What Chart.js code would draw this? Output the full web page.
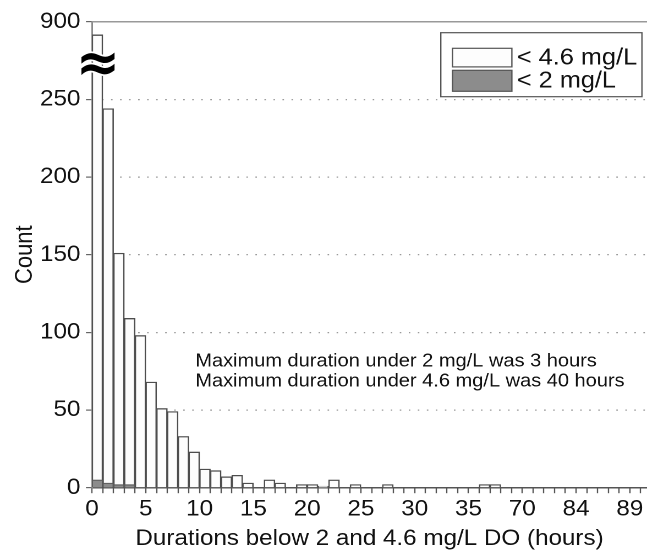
<!DOCTYPE html>
<html>
<head>
<meta charset="utf-8">
<script src="https://cdn.jsdelivr.net/npm/chart.js@4/dist/chart.umd.min.js"></script>
<style>
  html, body { margin: 0; padding: 0; background: #fff; overflow: hidden; }
  #wrap { width: 647px; height: 552px; overflow: hidden; }
</style>
</head>
<body>
<div id="wrap"><canvas id="c" width="588" height="552" style="display:block;width:647px;height:552px"></canvas></div>
<script>
// Hourly bins: number of events whose duration below each DO threshold fell in that bin
const countBelow46 = [790, 244, 151, 109, 98, 68, 51, 49, 33, 23, 12, 11, 7, 8, 3, 0,
                      5, 3, 0, 2, 2, 1, 5, 0, 2, 0, 0, 2, 0, 0, 0, 0, 0, 0, 0, 0,
                      2, 2, 0, 0, 0, 0, 0, 0, 0, 0, 0, 0, 0, 0, 0, 0];
const countBelow2  = [5, 3, 2, 2, 0, 0, 0, 0, 0, 0, 0, 0, 0, 0, 0, 0,
                      0, 0, 0, 0, 0, 0, 0, 0, 0, 0, 0, 0, 0, 0, 0, 0,
                      0, 0, 0, 0, 0, 0, 0, 0, 0, 0, 0, 0, 0, 0, 0, 0, 0, 0, 0, 0];
const seriesLabels = ['< 4.6 mg/L', '< 2 mg/L'];

// x axis: one slot per bin, labelled every fifth edge
const xTickPositions = [0, 5, 10, 15, 20, 25, 30, 35, 40, 45, 50];
const xTickLabels    = ['0', '5', '10', '15', '20', '25', '30', '35', '70', '84', '89'];
const xAxisEnd = 51.6;

// y axis: 0–250 linear, then a single 50-unit step stands for 250–900
const yTickLabels = ['0', '50', '100', '150', '200', '250', '900'];
const BREAK_LOW = 250, BREAK_HIGH = 900, BREAK_SPAN = 50;

const noteLines = [
  'Maximum duration under 2 mg/L was 3 hours',
  'Maximum duration under 4.6 mg/L was 40 hours'
];

function toAxis(v) {
  return v <= BREAK_LOW ? v : BREAK_LOW + (v - BREAK_LOW) * BREAK_SPAN / (BREAK_HIGH - BREAK_LOW);
}
function toPoints(arr) {
  return arr.map((v, i) => ({ x: i + 0.5, y: toAxis(v) }));
}

const FONT = '"Liberation Sans", Arial, Helvetica, sans-serif';
Chart.defaults.font.family = FONT;
Chart.defaults.color = '#111';

// frame line along the top of the plot
const topFrame = {
  id: 'topFrame',
  beforeDatasetsDraw(chart) {
    const { ctx, chartArea: a } = chart;
    ctx.save();
    ctx.strokeStyle = '#999';
    ctx.lineWidth = 1.5;
    ctx.beginPath();
    ctx.moveTo(a.left, a.top);
    ctx.lineTo(a.right, a.top);
    ctx.stroke();
    ctx.restore();
  }
};

// axis-break mark, boxed legend and the note text
const overlay = {
  id: 'overlay',
  afterDatasetsDraw(chart) {
    const { ctx, chartArea: a, scales: { x, y } } = chart;
    ctx.save();

    // break symbol on the first bar
    const bx = x.getPixelForValue(0.55);
    const by = y.getPixelForValue(271);
    ctx.save();
    ctx.translate(bx, by);
    ctx.scale(1, 1.15);
    ctx.font = 'bold 48px "DejaVu Sans"';
    ctx.textAlign = 'center';
    ctx.textBaseline = 'middle';
    ctx.lineWidth = 3;
    ctx.strokeStyle = '#fff';
    ctx.strokeText('≈', 0, 0);
    ctx.fillStyle = '#000';
    ctx.fillText('≈', 0, 0);
    ctx.restore();

    // legend box
    const lx = a.right - 187.4, ly = a.top + 11, lw = 182.8, lh = 64;
    ctx.fillStyle = '#fff';
    ctx.fillRect(lx, ly, lw, lh + 2);
    ctx.strokeStyle = '#555';
    ctx.lineWidth = 1.2;
    ctx.strokeRect(lx, ly, lw, lh);
    const swX = lx + 10.6, swW = 54;
    const rows = [
      { label: seriesLabels[0], fill: '#fdfdfd', top: ly + 15.6, h: 18.6 },
      { label: seriesLabels[1], fill: '#8c8c8c', top: ly + 37.6, h: 21 }
    ];
    ctx.font = '23px ' + FONT;
    ctx.textAlign = 'left';
    ctx.textBaseline = 'middle';
    rows.forEach(r => {
      ctx.fillStyle = r.fill;
      ctx.fillRect(swX, r.top, swW, r.h);
      ctx.strokeStyle = '#555';
      ctx.lineWidth = 1.2;
      ctx.strokeRect(swX, r.top, swW, r.h);
      ctx.fillStyle = '#111';
      ctx.fillText(r.label, swX + swW + 4.5, r.top + r.h / 2 + 0.5);
    });

    // note
    ctx.font = '18.2px ' + FONT;
    ctx.textBaseline = 'alphabetic';
    ctx.fillStyle = '#111';
    const nx = x.getPixelForValue(9.6);
    ctx.fillText(noteLines[0], nx, 366.7);
    ctx.fillText(noteLines[1], nx, 386.7);

    ctx.restore();
  }
};

new Chart(document.getElementById('c'), {
  type: 'bar',
  data: {
    datasets: [
      {
        label: seriesLabels[1],
        data: toPoints(countBelow2),
        backgroundColor: '#8c8c8c',
        borderColor: '#5a5a5a',
        borderWidth: 1.2,
        grouped: false,
        order: 0,
        barPercentage: 1,
        categoryPercentage: 1
      },
      {
        label: seriesLabels[0],
        data: toPoints(countBelow46),
        backgroundColor: '#fdfdfd',
        borderColor: '#4d4d4d',
        borderWidth: 1.3,
        grouped: false,
        order: 1,
        barPercentage: 1,
        categoryPercentage: 1
      }
    ]
  },
  options: {
    responsive: false,
    devicePixelRatio: 2,
    animation: false,
    layout: { padding: { top: 21.7, right: 0, bottom: 0, left: 0 } },
    plugins: { legend: { display: false }, tooltip: { enabled: false } },
    scales: {
      x: {
        type: 'linear',
        min: 0,
        max: xAxisEnd,
        offset: false,
        grid: {
          offset: false,
          drawOnChartArea: false,
          drawTicks: true,
          tickLength: 5.5,
          tickColor: '#555',
          tickWidth: 1.2
        },
        border: { display: true, color: '#555', width: 1.5 },
        ticks: {
          stepSize: 1,
          autoSkip: false,
          includeBounds: false,
          maxRotation: 0,
          minRotation: 0,
          padding: 3,
          color: '#111',
          font: { size: 22 },
          callback: (v) => {
            const r = Math.round(v);
            if (Math.abs(v - r) > 1e-6) return '';
            const k = xTickPositions.indexOf(r);
            return k >= 0 ? xTickLabels[k] : '';
          }
        },
        title: {
          display: true,
          text: 'Durations below 2 and 4.6 mg/L DO (hours)',
          color: '#111',
          font: { size: 22 },
          padding: { top: 0, bottom: 0 }
        },
        afterFit: (s) => { s.height = 64.3; }
      },
      y: {
        type: 'linear',
        min: 0,
        max: BREAK_LOW + BREAK_SPAN,
        grid: {
          color: (ctx) => (ctx.tick && ctx.tick.value === 0) ? 'rgba(0,0,0,0)' : '#9a9a9a',
          lineWidth: 1.2,
          drawTicks: true,
          tickLength: 5.5,
          tickColor: '#666',
          tickWidth: 1.2,
          tickBorderDash: []
        },
        border: { display: true, color: '#888', width: 1.5, dash: [1.4, 6.8] },
        ticks: {
          stepSize: 50,
          padding: 5,
          color: '#111',
          font: { size: 22 },
          callback: (v) => yTickLabels[Math.round(v / 50)] ?? ''
        },
        title: {
          display: true,
          text: 'Count',
          color: '#111',
          font: { size: 22 },
          padding: { top: 9.5, bottom: 0 }
        },
        afterFit: (s) => { s.width = 83.6; }
      }
    }
  },
  plugins: [topFrame, overlay]
});
</script>
</body>
</html>
